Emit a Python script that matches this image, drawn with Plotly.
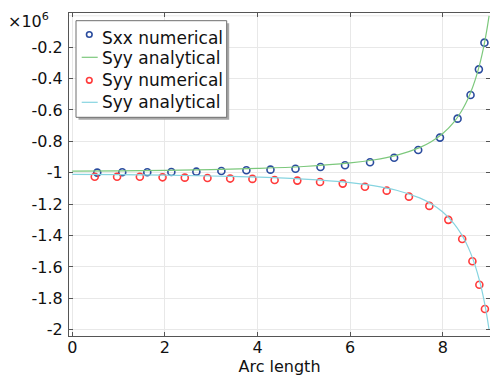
import plotly.graph_objects as go

# ---- data (stress values in units of 1e6) ----
sxx_num_x = [0.54, 1.08, 1.62, 2.14, 2.68, 3.22, 3.76, 4.28, 4.82, 5.36, 5.89,
             6.43, 6.95, 7.47, 7.94, 8.32, 8.60, 8.78, 8.90]
sxx_num_y = [-0.999, -0.997, -0.997, -0.995, -0.993, -0.989, -0.984, -0.980,
             -0.974, -0.963, -0.952, -0.933, -0.904, -0.855, -0.776, -0.655,
             -0.504, -0.341, -0.171]

syy_num_x = [0.486, 0.968, 1.46, 1.95, 2.43, 2.92, 3.41, 3.89, 4.37, 4.86, 5.35,
             5.84, 6.32, 6.79, 7.27, 7.71, 8.12, 8.42, 8.64, 8.79, 8.91]
syy_num_y = [-1.025, -1.025, -1.025, -1.029, -1.031, -1.033, -1.037, -1.039,
             -1.046, -1.050, -1.059, -1.069, -1.089, -1.114, -1.152, -1.211,
             -1.300, -1.422, -1.564, -1.713, -1.868]

ana_x = [0, 1, 2, 3, 4, 5, 6, 6.5, 7, 7.5, 7.75, 8, 8.25, 8.4, 8.5, 8.6, 8.7,
         8.8, 8.85, 8.9, 8.95, 9.0]
sxx_ana_y = [-0.990, -0.9877, -0.9844, -0.9796, -0.9722, -0.960, -0.9375,
             -0.9184, -0.8889, -0.840, -0.8025, -0.750, -0.6735, -0.6094,
             -0.5556, -0.4898, -0.4083, -0.3056, -0.2438, -0.1736, -0.0930, 0.0]
syy_ana_y = [-1.010, -1.0123, -1.0156, -1.0204, -1.0278, -1.040, -1.0625,
             -1.0816, -1.1111, -1.160, -1.1975, -1.250, -1.3265, -1.3906,
             -1.4444, -1.5102, -1.5917, -1.6944, -1.7562, -1.8264, -1.9070, -2.0]

series_names = ["Sxx numerical", "Syy analytical", "Syy numerical", "Syy analytical"]
series_colors = ["#2b4c9e", "#7cc87c", "#ff3b3b", "#86d4e0"]
series_kinds = ["marker", "line", "marker", "line"]

y_tickvals = [-2.0, -1.8, -1.6, -1.4, -1.2, -1.0, -0.8, -0.6, -0.4, -0.2]
y_ticktext = ["-2", "-1.8", "-1.6", "-1.4", "-1.2", "-1", "-0.8", "-0.6",
              "-0.4", "-0.2"]
x_tickvals = [0, 2, 4, 6, 8]

FONT = "DejaVu Sans"
W, H = 490, 377
L, R, T, B = 69, 0, 13, 41
pw = W - L - R
ph = H - T - B


def px2paper(x, y):
    return (x - L) / pw, (H - B - y) / ph


fig = go.Figure()
fig.add_trace(go.Scatter(x=sxx_num_x, y=sxx_num_y, mode="markers", name=series_names[0],
                         marker=dict(symbol="circle-open", size=7, color=series_colors[0],
                                     line=dict(width=1.6, color=series_colors[0]))))
fig.add_trace(go.Scatter(x=ana_x, y=sxx_ana_y, mode="lines", name=series_names[1],
                         line=dict(color=series_colors[1], width=1.2, shape="spline")))
fig.add_trace(go.Scatter(x=syy_num_x, y=syy_num_y, mode="markers", name=series_names[2],
                         marker=dict(symbol="circle-open", size=7, color=series_colors[2],
                                     line=dict(width=1.6, color=series_colors[2]))))
fig.add_trace(go.Scatter(x=ana_x, y=syy_ana_y, mode="lines", name=series_names[3],
                         line=dict(color=series_colors[3], width=1.2, shape="spline")))

shapes = []
annotations = []

# gridline at zero (no label in the original)
shapes.append(dict(type="line", xref="paper", yref="y", x0=0, x1=1, y0=0, y1=0,
                   line=dict(color="#e8e8e8", width=1), layer="below"))

# custom legend box with shadow
bx0, by0, bx1, by1 = 76, 20.7, 226.7, 117.3
a0, b0 = px2paper(bx0 + 2.5, by0 + 2.5)
a1, b1 = px2paper(bx1 + 2.5, by1 + 2.5)
shapes.append(dict(type="rect", xref="paper", yref="paper", x0=a0, y0=b1, x1=a1, y1=b0,
                   fillcolor="#a8a8a8", line=dict(width=0), layer="above"))
a0, b0 = px2paper(bx0, by0)
a1, b1 = px2paper(bx1, by1)
shapes.append(dict(type="rect", xref="paper", yref="paper", x0=a0, y0=b1, x1=a1, y1=b0,
                   fillcolor="white", line=dict(color="#6e6e6e", width=1), layer="above"))

row_text_y = [37.5, 57.5, 80, 102]
row_sym_y = [34.5, 57.3, 80.3, 102.3]
for name, color, kind, ty, sy in zip(series_names, series_colors, series_kinds,
                                     row_text_y, row_sym_y):
    if kind == "marker":
        c0x, c0y = px2paper(89.3 - 2.8, sy - 2.8)
        c1x, c1y = px2paper(89.3 + 2.8, sy + 2.8)
        shapes.append(dict(type="circle", xref="paper", yref="paper", x0=c0x, y0=c1y,
                           x1=c1x, y1=c0y, line=dict(color=color, width=1.6),
                           layer="above"))
    else:
        l0x, l0y = px2paper(81.7, sy)
        l1x, _ = px2paper(97.7, sy)
        shapes.append(dict(type="line", xref="paper", yref="paper", x0=l0x, y0=l0y,
                           x1=l1x, y1=l0y, line=dict(color=color, width=1.2),
                           layer="above"))
    tx, tyy = px2paper(99.5, ty)
    annotations.append(dict(text=name, xref="paper", yref="paper", x=tx, y=tyy,
                            xanchor="left", yanchor="middle", showarrow=False,
                            font=dict(family=FONT, size=17, color="#111")))

ex, ey = px2paper(6, 20)
annotations.append(dict(text="×10<sup>6</sup>", xref="paper", yref="paper", x=ex, y=ey,
                        xanchor="left", yanchor="middle", showarrow=False,
                        font=dict(family=FONT, size=16, color="#111")))

fig.update_layout(
    width=W, height=H,
    margin=dict(l=L, r=R, t=T, b=B),
    paper_bgcolor="white", plot_bgcolor="white",
    font=dict(family=FONT, size=16, color="#111"),
    showlegend=False,
    xaxis=dict(range=[-0.07, 9.02], tickvals=x_tickvals, ticks="inside", ticklen=4,
               tickcolor="#555", showline=True, linecolor="#555", linewidth=1.2,
               mirror="ticks", showgrid=True, gridcolor="#e8e8e8", gridwidth=1,
               zeroline=False, tickfont=dict(size=16), ticklabelstandoff=-3,
               title=dict(text="Arc length", font=dict(size=16), standoff=0)),
    yaxis=dict(range=[-2.04, 0.018], tickvals=y_tickvals, ticktext=y_ticktext,
               ticks="inside", ticklen=4, tickcolor="#555", showline=True,
               linecolor="#555", linewidth=1.2, mirror="ticks", showgrid=True,
               gridcolor="#e8e8e8", gridwidth=1, zeroline=False,
               tickfont=dict(size=16), ticklabelstandoff=2),
    shapes=shapes,
    annotations=annotations,
)

fig.write_html("out.html")
